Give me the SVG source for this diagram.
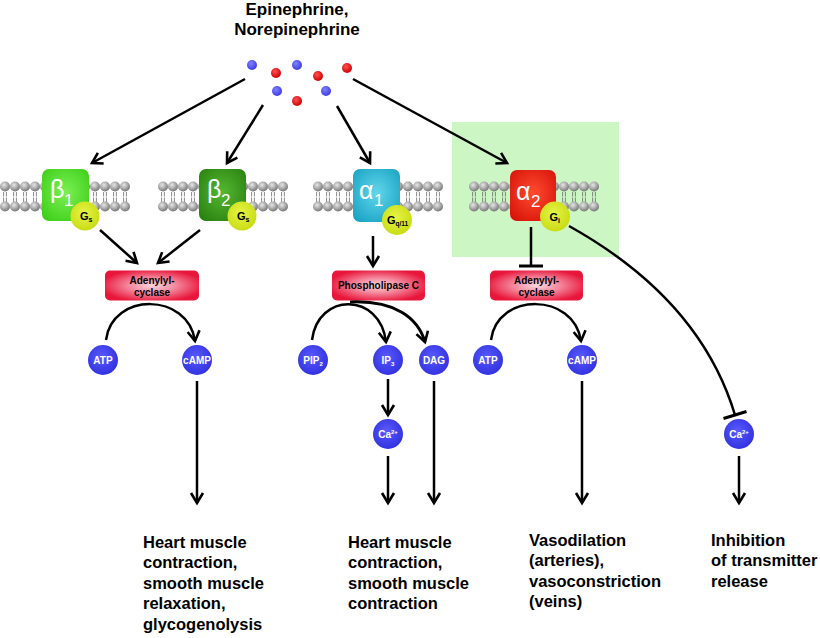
<svg xmlns="http://www.w3.org/2000/svg" width="820" height="638" viewBox="0 0 820 638">
<defs>
<style>
text{font-family:"Liberation Sans",Arial,Helvetica,sans-serif;}
.t{font-size:17px;font-weight:bold;fill:#000;text-anchor:middle}
.out{font-size:16.5px;font-weight:bold;fill:#000}
.enz{font-size:10px;font-weight:bold;fill:#000;text-anchor:middle}
.mol{font-size:10px;font-weight:bold;fill:#fff;text-anchor:middle}
.rec{fill:#fff;font-size:25px}
.rsub{fill:#fff;font-size:17px}
.g{font-size:11px;font-weight:bold;fill:#000}
.ln{fill:none;stroke:#000;stroke-width:2.5}
.thick{stroke-width:3}
.arr{marker-end:url(#ah)}
.inh{marker-end:url(#bar)}
.enzbox{fill:url(#gEnz)}
.bc{fill:url(#gBlue)}
.gp{fill:url(#gG)}
.dotb{fill:url(#gDotB)}
.dotr{fill:url(#gDotR)}
</style>
<radialGradient id="ball" cx="40%" cy="35%" r="65%">
<stop offset="0" stop-color="#e6e6e6"/><stop offset="0.55" stop-color="#ababab"/><stop offset="1" stop-color="#777"/>
</radialGradient>
<radialGradient id="gEnz" cx="50%" cy="50%" r="55%">
<stop offset="0" stop-color="#fbd6de"/><stop offset="0.45" stop-color="#f4899e"/><stop offset="1" stop-color="#e8163a"/>
</radialGradient>
<radialGradient id="gBlue" cx="45%" cy="40%" r="60%">
<stop offset="0" stop-color="#5a5aff"/><stop offset="1" stop-color="#3232e0"/>
</radialGradient>
<radialGradient id="gG" cx="45%" cy="40%" r="60%">
<stop offset="0" stop-color="#e6f446"/><stop offset="1" stop-color="#c9dc14"/>
</radialGradient>
<radialGradient id="gDotB" cx="40%" cy="35%" r="65%">
<stop offset="0" stop-color="#8080ff"/><stop offset="1" stop-color="#3c3ce6"/>
</radialGradient>
<radialGradient id="gDotR" cx="40%" cy="35%" r="65%">
<stop offset="0" stop-color="#ff5050"/><stop offset="1" stop-color="#d00000"/>
</radialGradient>
<radialGradient id="gB1" cx="50%" cy="45%" r="65%">
<stop offset="0" stop-color="#7cf055"/><stop offset="1" stop-color="#3fcf1a"/>
</radialGradient>
<radialGradient id="gB2" cx="50%" cy="45%" r="65%">
<stop offset="0" stop-color="#55b832"/><stop offset="1" stop-color="#2a8210"/>
</radialGradient>
<radialGradient id="gA1" cx="50%" cy="45%" r="65%">
<stop offset="0" stop-color="#62d6ec"/><stop offset="1" stop-color="#1aa4c4"/>
</radialGradient>
<radialGradient id="gA2" cx="50%" cy="45%" r="65%">
<stop offset="0" stop-color="#ff4c30"/><stop offset="1" stop-color="#d8140a"/>
</radialGradient>
<pattern id="mem" width="10" height="36" patternUnits="userSpaceOnUse">
<path d="M3.6,16V20.5M6.4,16V20.5M3.6,21.5V26M6.4,21.5V26" stroke="#555" stroke-width="0.7"/>
<circle cx="5" cy="10.5" r="5" fill="url(#ball)"/>
<circle cx="5" cy="30.5" r="5" fill="url(#ball)"/>
</pattern>
<marker id="ah" viewBox="-12 -8 16 16" markerWidth="16" markerHeight="16" markerUnits="userSpaceOnUse" refX="0" refY="0" orient="auto">
<path d="M-10,-6 L0,0 L-10,6" fill="none" stroke="#000" stroke-width="2.6"/>
</marker>
<marker id="bar" viewBox="-2 -13 4 26" markerWidth="4" markerHeight="26" markerUnits="userSpaceOnUse" refX="0" refY="0" orient="auto">
<path d="M0,-12 L0,12" stroke="#000" stroke-width="3"/>
</marker>
</defs>

<rect id="alpha2-highlight" x="452" y="122" width="167" height="135" fill="#ccf6c4"/>

<g id="title">
<text class="t" x="297" y="15">Epinephrine,</text>
<text class="t" x="297" y="35">Norepinephrine</text>
</g>

<g id="ligands">
<circle class="dotb" cx="252" cy="65" r="5"/>
<circle class="dotb" cx="297" cy="65" r="5"/>
<circle class="dotb" cx="277" cy="91" r="5"/>
<circle class="dotb" cx="326" cy="91" r="5"/>
<circle class="dotr" cx="276" cy="73" r="5"/>
<circle class="dotr" cx="318" cy="76" r="5"/>
<circle class="dotr" cx="347" cy="68" r="5"/>
<circle class="dotr" cx="297" cy="101" r="5"/>
</g>

<g id="membrane">
<g transform="translate(0,176)"><rect width="130" height="36" fill="url(#mem)"/></g>
<g transform="translate(158,176)"><rect width="130" height="36" fill="url(#mem)"/></g>
<g transform="translate(313,176)"><rect width="130" height="36" fill="url(#mem)"/></g>
<g transform="translate(469,176)"><rect width="130" height="36" fill="url(#mem)"/></g>
</g>

<g id="beta1">
<rect x="42" y="169" width="47" height="52" rx="7" fill="url(#gB1)"/>
<text class="rec" x="50" y="198">β</text><text class="rsub" x="64" y="206">1</text>
</g>
<g id="beta2">
<rect x="199" y="169" width="47" height="52" rx="7" fill="url(#gB2)"/>
<text class="rec" x="207" y="198">β</text><text class="rsub" x="221" y="206">2</text>
</g>
<g id="alpha1">
<rect x="353" y="169" width="47" height="53" rx="7" fill="url(#gA1)"/>
<text class="rec" x="359" y="199">α</text><text class="rsub" x="374" y="206">1</text>
</g>
<g id="alpha2">
<rect x="510" y="170" width="46" height="51" rx="7" fill="url(#gA2)"/>
<text class="rec" x="516" y="200">α</text><text class="rsub" x="531" y="206.5">2</text>
</g>

<g id="gs1">
<circle class="gp" cx="85" cy="216" r="14.5"/>
<text class="g" x="80" y="220">G<tspan font-size="7" dy="2">s</tspan></text>
</g>
<g id="gs2">
<circle class="gp" cx="242" cy="216" r="14.5"/>
<text class="g" x="237" y="220">G<tspan font-size="7" dy="2">s</tspan></text>
</g>
<g id="gq11">
<circle class="gp" cx="397" cy="220" r="15"/>
<text class="g" x="387" y="224">G<tspan font-size="6.5" dy="1.5">q/11</tspan></text>
</g>
<g id="gi">
<circle class="gp" cx="555" cy="216.5" r="15"/>
<text class="g" x="549.5" y="221">G<tspan font-size="7" dy="2">i</tspan></text>
</g>

<g id="adenylylcyclase1">
<rect class="enzbox" x="105" y="270.5" width="94" height="30" rx="5"/>
<text class="enz" x="152" y="284">Adenylyl-</text>
<text class="enz" x="152" y="295.5">cyclase</text>
</g>
<g id="phospholipaseC">
<rect class="enzbox" x="332" y="270.5" width="93" height="30" rx="5"/>
<text class="enz" x="378.5" y="289">Phospholipase C</text>
</g>
<g id="adenylylcyclase2">
<rect class="enzbox" x="490" y="270.5" width="93" height="30" rx="5"/>
<text class="enz" x="536.5" y="284">Adenylyl-</text>
<text class="enz" x="536.5" y="295.5">cyclase</text>
</g>

<g id="atp1"><circle class="bc" cx="103" cy="360" r="15"/><text class="mol" x="103" y="363.5">ATP</text></g>
<g id="camp1"><circle class="bc" cx="197" cy="360" r="15"/><text class="mol" x="197" y="363.5">cAMP</text></g>
<g id="pip2"><circle class="bc" cx="313" cy="360" r="15"/><text class="mol" x="313" y="363.5">PIP<tspan font-size="6" dy="2">2</tspan></text></g>
<g id="ip3"><circle class="bc" cx="388" cy="360" r="15"/><text class="mol" x="388" y="363.5">IP<tspan font-size="6" dy="2">3</tspan></text></g>
<g id="dag"><circle class="bc" cx="434" cy="360" r="15"/><text class="mol" x="434" y="363.5">DAG</text></g>
<g id="ca1"><circle class="bc" cx="388" cy="434" r="15"/><text class="mol" x="388" y="437.5">Ca<tspan font-size="6" dy="-4">2+</tspan></text></g>
<g id="atp2"><circle class="bc" cx="488" cy="360" r="15"/><text class="mol" x="488" y="363.5">ATP</text></g>
<g id="camp2"><circle class="bc" cx="582" cy="360" r="15"/><text class="mol" x="582" y="363.5">cAMP</text></g>
<g id="ca2"><circle class="bc" cx="739" cy="434" r="15"/><text class="mol" x="739" y="437.5">Ca<tspan font-size="6" dy="-4">2+</tspan></text></g>

<g id="outcome1">
<text class="out" x="143" y="548">Heart muscle<tspan x="143" dy="20.4">contraction,</tspan><tspan x="143" dy="20.4">smooth muscle</tspan><tspan x="143" dy="20.4">relaxation,</tspan><tspan x="143" dy="20.4">glycogenolysis</tspan></text>
</g>
<g id="outcome2">
<text class="out" x="348" y="548">Heart muscle<tspan x="348" dy="20.4">contraction,</tspan><tspan x="348" dy="20.4">smooth muscle</tspan><tspan x="348" dy="20.4">contraction</tspan></text>
</g>
<g id="outcome3">
<text class="out" x="529" y="546">Vasodilation<tspan x="529" dy="20.4">(arteries),</tspan><tspan x="529" dy="20.4">vasoconstriction</tspan><tspan x="529" dy="20.4">(veins)</tspan></text>
</g>
<g id="outcome4">
<text class="out" x="711" y="546">Inhibition<tspan x="711" dy="20.4">of transmitter</tspan><tspan x="711" dy="20.4">release</tspan></text>
</g>

<g id="connectors">
<path class="ln arr" d="M245,79 L92,163"/>
<path class="ln arr" d="M263,105 L227,163"/>
<path class="ln arr" d="M337,106 L370,163"/>
<path class="ln arr" d="M353,79 L507,163"/>
<path class="ln arr" d="M100,230 L137,263"/>
<path class="ln arr" d="M200,230 L158,263"/>
<path class="ln arr" d="M373,236 L373,266"/>
<path class="ln inh" d="M531,227 L531,266"/>
<path class="ln inh" d="M569,226 Q700,299 735,415"/>
<path class="ln arr" d="M106,340 C112,292 188,292 195,341"/>
<path class="ln arr" d="M491,340 C497,292 574,292 581,341"/>
<path class="ln arr" d="M312,340 C318,292 380,292 386,342"/>
<path class="ln thick arr" d="M350,302 C395,300 418,318 425,342"/>
<path class="ln arr" d="M388,379 L388,415"/>
<path class="ln arr" d="M197,381 L197,503"/>
<path class="ln arr" d="M388,456 L388,503"/>
<path class="ln arr" d="M434,381 L434,503"/>
<path class="ln arr" d="M582,381 L582,503"/>
<path class="ln arr" d="M739,456 L739,503"/>
</g>
</svg>
